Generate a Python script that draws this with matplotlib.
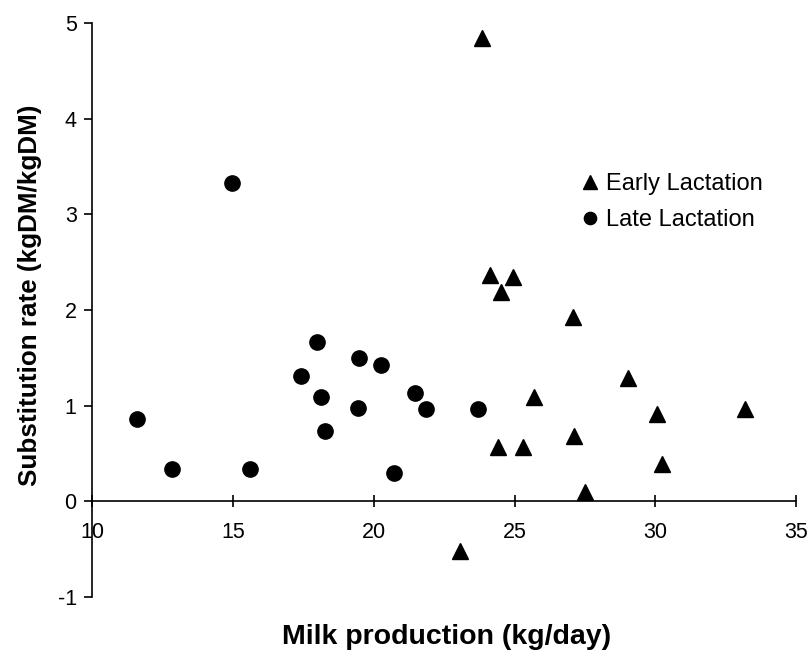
import numpy as np
import matplotlib.pyplot as plt

plt.rcParams['font.family'] = ['Liberation Sans', 'DejaVu Sans']
plt.rcParams['axes.unicode_minus'] = False

# milk yield (kg/day) vs substitution rate (kgDM/kgDM)
early_milk = [23.85, 24.13, 24.95, 24.52, 27.08, 29.03, 25.70, 30.07, 33.19,
              24.42, 25.30, 27.12, 30.24, 27.50, 23.07]
early_sr = [4.84, 2.37, 2.34, 2.19, 1.93, 1.29, 1.09, 0.91, 0.96,
            0.57, 0.57, 0.68, 0.39, 0.10, -0.52]

late_milk = [11.60, 12.84, 15.60, 14.97, 17.42, 17.99, 18.13, 18.28, 19.49,
             19.44, 20.26, 20.72, 21.47, 21.86, 23.70]
late_sr = [0.86, 0.34, 0.34, 3.33, 1.31, 1.67, 1.09, 0.73, 1.50,
           0.98, 1.42, 0.30, 1.13, 0.97, 0.97]

x_ticks = [10, 15, 20, 25, 30, 35]
y_ticks = [-1, 0, 1, 2, 3, 4, 5]

fig = plt.figure(figsize=(8.1, 6.53), dpi=100)
ax = fig.add_axes([0.1136, 0.0858, 0.8694, 0.879])

ax.plot(early_milk, early_sr, linestyle='none', marker='^', markersize=12,
        color='black', label='Early Lactation')
ax.plot(late_milk, late_sr, linestyle='none', marker='o', markersize=11,
        color='black', label='Late Lactation')

ax.set_xlim(10, 35)
ax.set_ylim(-1, 5)
ax.set_xticks(x_ticks)
ax.set_yticks(y_ticks)

# axes cross at (10, 0)
ax.spines['left'].set_position(('data', 10))
ax.spines['bottom'].set_position(('data', 0))
ax.spines['top'].set_visible(False)
ax.spines['right'].set_visible(False)
ax.spines['left'].set_linewidth(1.2)
ax.spines['bottom'].set_linewidth(1.2)

ax.tick_params(axis='x', direction='inout', length=8, width=1.2,
               labelsize=15.5, pad=11)
ax.tick_params(axis='y', direction='out', length=6, width=1.2,
               labelsize=15.5, pad=5)

fig.text(0.037, 0.548, 'Substitution rate (kgDM/kgDM)', rotation=90,
         ha='center', va='center', fontsize=18.7, fontweight='bold')
fig.text(0.551, 0.024, 'Milk production (kg/day)', ha='center',
         va='center', fontsize=20.5, fontweight='bold')

ax.legend(loc='upper left', bbox_to_anchor=(0.68, 0.755), frameon=False,
          fontsize=17, handlelength=0.8, handletextpad=0.3,
          markerscale=0.8, labelspacing=0.6, borderaxespad=0)

fig.savefig('out.png', dpi=100)
